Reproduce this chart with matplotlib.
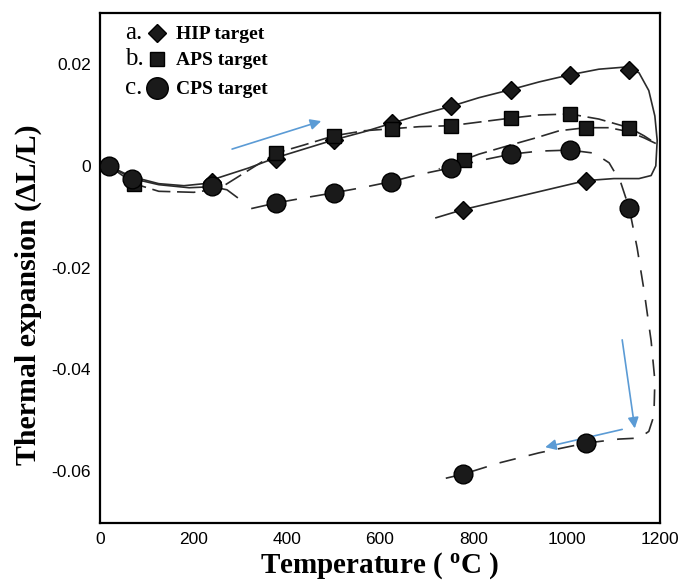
import matplotlib
matplotlib.use("Agg")
import matplotlib.pyplot as plt
from matplotlib.ticker import FuncFormatter

# traced curves (temperature in degC, dL/L)
hip_curve_t = [19, 51, 84, 126, 180, 223, 255, 319, 377, 437, 501, 566, 626, 684, 752, 812,
               881, 941, 1007, 1069, 1123, 1155, 1176, 1189, 1194, 1191, 1181, 1155, 1101,
               1041, 778, 720]
hip_curve_v = [0, -0.0014, -0.0025, -0.0035, -0.0039, -0.0035, -0.0023, -0.0004, 0.0016,
               0.0033, 0.0051, 0.0067, 0.0084, 0.0100, 0.0117, 0.0134, 0.0150, 0.0165, 0.0179,
               0.0190, 0.0194, 0.0183, 0.0148, 0.0098, 0.0050, 0.0, -0.0019, -0.0025, -0.0025,
               -0.0029, -0.0086, -0.0102]

aps_heat_t = [19, 73, 126, 201, 255, 309, 377, 437, 501, 566, 626, 684, 752, 812, 881, 941,
              1007, 1069, 1134, 1166, 1191]
aps_heat_v = [0, -0.0035, -0.0050, -0.0052, -0.0045, -0.0014, 0.0025, 0.0041, 0.0059, 0.0069,
              0.0073, 0.0077, 0.0079, 0.0086, 0.0094, 0.0100, 0.0102, 0.0092, 0.0075, 0.0059,
              0.0044]
aps_cool_t = [1191, 1166, 1134, 1091, 1041, 984, 934, 876, 812, 780, 726]
aps_cool_v = [0.0044, 0.0055, 0.0067, 0.0075, 0.0075, 0.0069, 0.0055, 0.0040, 0.0023, 0.0012,
              -0.0006]

cps_start_t = [19, 69, 126, 191, 240, 272, 294]
cps_start_v = [0, -0.0025, -0.0037, -0.0043, -0.0041, -0.0047, -0.0062]
cps_curve_t = [324, 377, 437, 501, 566, 624, 684, 752, 812, 881, 941, 1007, 1059, 1091, 1116,
               1134, 1151, 1166, 1181, 1189, 1187, 1176, 1155, 1112, 1041, 941, 855, 778, 741]
cps_curve_v = [-0.0084, -0.0073, -0.0063, -0.0053, -0.0042, -0.0031, -0.0017, -0.0004, 0.0010,
               0.0023, 0.0029, 0.0031, 0.0025, 0.0006, -0.0033, -0.0083, -0.0161, -0.0246,
               -0.0344, -0.0422, -0.0491, -0.0522, -0.0535, -0.0537, -0.0545, -0.0564, -0.0584,
               -0.0606, -0.0614]

# measured points
hip_t = [20, 240, 377, 501, 626, 752, 880, 1007, 1133, 1041, 778]
hip_v = [0, -0.0031, 0.0014, 0.0050, 0.0084, 0.0117, 0.0150, 0.0179, 0.0188, -0.0029, -0.0086]
aps_t = [73, 377, 501, 626, 752, 880, 1007, 1133, 1041, 780]
aps_v = [-0.0035, 0.0025, 0.0059, 0.0073, 0.0079, 0.0094, 0.0102, 0.0075, 0.0075, 0.0012]
cps_t = [20, 69, 240, 377, 501, 624, 752, 880, 1007, 1133, 1041, 778]
cps_v = [0, -0.0025, -0.0040, -0.0073, -0.0053, -0.0031, -0.0004, 0.0023, 0.0031, -0.0083,
         -0.0545, -0.0606]

# heating / cooling direction arrows: (start, end)
arrows = [((283, 0.0033), (474, 0.0088)),
          ((1119, -0.0342), (1146, -0.0516)),
          ((1119, -0.0518), (954, -0.0553))]

legend_tags = ["a.", "b.", "c."]
legend_names = ["HIP target", "APS target", "CPS target"]
legend_markers = [("D", 9), ("s", 9.5), ("o", 15.5)]

serif = ["Liberation Serif", "DejaVu Serif"]
plt.rcParams["font.family"] = ["Liberation Sans", "DejaVu Sans"]

fig = plt.figure(figsize=(6.84, 5.81), dpi=100)
ax = fig.add_axes([0.1462, 0.0998, 0.8187, 0.8783])

line_col = "#2b2b2b"
ax.plot(hip_curve_t, hip_curve_v, color=line_col, lw=1.2, zorder=2)
ax.plot(aps_heat_t, aps_heat_v, color=line_col, lw=1.2, dashes=(11, 4), zorder=2)
ax.plot(aps_cool_t, aps_cool_v, color=line_col, lw=1.2, dashes=(11, 4), zorder=2)
ax.plot(cps_start_t, cps_start_v, color=line_col, lw=1.2, zorder=2)
ax.plot(cps_curve_t, cps_curve_v, color=line_col, lw=1.2, dashes=(10, 8), zorder=2)

mk = dict(color="#1a1a1a", mec="black", mew=1.0, ls="none")
ax.plot(hip_t, hip_v, marker="D", ms=9.5, zorder=3, **mk)
ax.plot(aps_t, aps_v, marker="s", ms=9.5, zorder=4, **mk)
ax.plot(cps_t, cps_v, marker="o", ms=13.5, zorder=5, **mk)

for (x0, y0), (x1, y1) in arrows:
    ax.annotate("", xy=(x1, y1), xytext=(x0, y0),
                arrowprops=dict(arrowstyle="-|>", color="#5b9bd5", lw=1.2,
                                mutation_scale=16, shrinkA=0, shrinkB=0))

# hand-made legend block in the upper left corner
base_y = [0.948, 0.897, 0.840]
mark_y = [0.960, 0.909, 0.852]
for tag, name, (m, ms), yb, ym in zip(legend_tags, legend_names, legend_markers, base_y, mark_y):
    ax.text(0.045, yb, tag, transform=ax.transAxes, family=serif, fontsize=18,
            va="baseline", ha="left")
    ax.plot([0.102], [ym], transform=ax.transAxes, marker=m, ms=ms, color="#1a1a1a",
            mec="black", ls="none", clip_on=False)
    ax.text(0.136, yb, name, transform=ax.transAxes, family=serif, fontsize=14,
            fontweight="bold", va="baseline", ha="left")

ax.set_xlim(0, 1200)
ax.set_ylim(-0.0702, 0.0301)
ax.set_xticks([0, 200, 400, 600, 800, 1000, 1200])
ax.set_yticks([-0.06, -0.04, -0.02, 0, 0.02])
ax.yaxis.set_major_formatter(FuncFormatter(lambda v, p: "0" if abs(v) < 1e-9 else f"{v:g}"))
ax.tick_params(length=0, labelsize=12.5, pad=6.5)

for s in ax.spines.values():
    s.set_linewidth(1.6)

ax.set_xlabel("Temperature ( $\\mathregular{^o}$C )", family=serif, fontsize=21,
              fontweight="bold", va="baseline")
ax.xaxis.set_label_coords(0.5, -0.098)
ax.set_ylabel("Thermal expansion (\u0394L/L)", family=serif, fontsize=21.5,
              fontweight="bold", va="center")
ax.yaxis.set_label_coords(-0.1286, 0.4468)

fig.savefig("out.png", dpi=100)
